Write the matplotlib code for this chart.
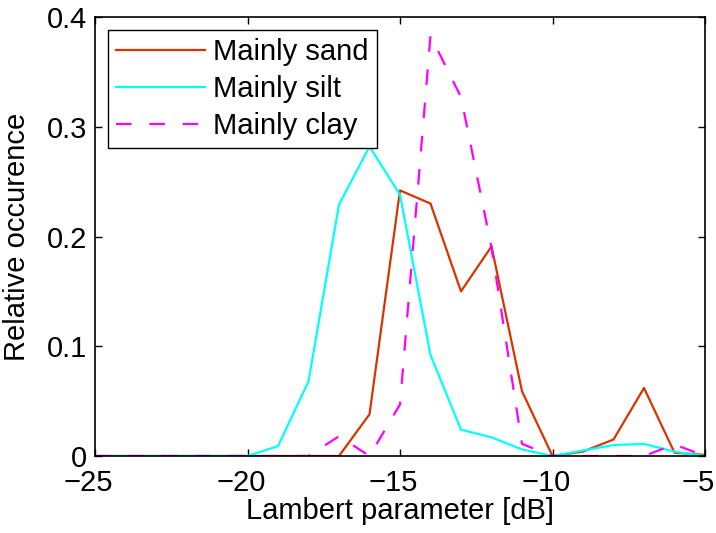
import matplotlib
matplotlib.use("Agg")
import matplotlib.pyplot as plt
import matplotlib.transforms as mtransforms
from matplotlib.legend_handler import HandlerLine2D
from matplotlib.lines import Line2D

plt.rcParams['font.family'] = ['Liberation Sans', 'DejaVu Sans']

# Lambert parameter bins [dB], -25 ... -5
lambert_db = list(range(-25, -4))

# Relative occurrence per bin for each sediment class
sand = [0, 0, 0, 0, 0, 0, 0, 0, 0, 0.038, 0.242, 0.230, 0.150, 0.191,
        0.059, 0.0, 0.004, 0.015, 0.062, 0.003, 0.001]
silt = [0, 0, 0, 0, 0, 0.0, 0.009, 0.068, 0.229, 0.282, 0.238, 0.092,
        0.024, 0.017, 0.006, 0.0, 0.005, 0.010, 0.011, 0.004, 0.0]
clay = [0, 0, 0, 0, 0, 0, 0, 0.0, 0.018, 0.0, 0.047, 0.383, 0.327,
        0.190, 0.011, 0.0, 0.0, 0.0, 0.0, 0.0105, 0.0]

labels = ["Mainly sand", "Mainly silt", "Mainly clay"]
x_ticks = [-25, -20, -15, -10, -5]
y_ticks = [0, 0.1, 0.2, 0.3, 0.4]
y_ticklabels = ["0", "0.1", "0.2", "0.3", "0.4"]

FS = 21
W, H = 716, 533

fig = plt.figure(figsize=(W / 100, H / 100), dpi=100)
ax = fig.add_axes([95 / W, 1 - 456 / H, 610 / W, 439 / H])

ax.plot(lambert_db, sand, color='#d93300', lw=1.6, label=labels[0])
ax.plot(lambert_db, silt, color='#00ffff', lw=1.6, label=labels[1])
ax.plot(lambert_db, clay, color='#ff00ff', lw=1.6, ls=(0, (7, 8)),
        label=labels[2])

ax.set_xlim(-25, -5)
ax.set_ylim(0, 0.4)
ax.set_xticks(x_ticks)
ax.set_yticks(y_ticks)
ax.set_yticklabels(y_ticklabels)
ax.tick_params(direction='in', top=True, right=True, labelsize=FS,
               length=5, width=1)
ax.tick_params(axis='x', pad=9.5)
ax.tick_params(axis='y', pad=5.5)
for s in ax.spines.values():
    s.set_linewidth(1.2)

# nudge x tick labels slightly left
shift = mtransforms.ScaledTranslation(-6.5 / 100, 0, fig.dpi_scale_trans)
for lab in ax.get_xticklabels():
    lab.set_transform(lab.get_transform() + shift)

ax.set_xlabel("Lambert parameter [dB]", fontsize=FS, va='center')
ax.xaxis.set_label_coords(0.5, (456 - 511) / 439)
ax.set_ylabel("Relative occurence", fontsize=FS, va='center')
ax.yaxis.set_label_coords((17 - 95) / 610, 0.5)


class InsetLineHandler(HandlerLine2D):
    """Legend line that starts a little right of the handle box edge."""
    def create_artists(self, legend, orig_handle, xdescent, ydescent,
                       width, height, fontsize, trans):
        arts = super().create_artists(legend, orig_handle, xdescent, ydescent,
                                      width, height, fontsize, trans)
        for a in arts:
            if isinstance(a, Line2D) and len(a.get_xdata()) == 2:
                x0, x1 = a.get_xdata()
                a.set_xdata([x0 + 9 * 72 / 100, x1])
        return arts


handle_len = (89 * 72 / 100) / FS
leg = ax.legend(loc='upper left', bbox_to_anchor=(13 / 610, 1 - 13 / 439),
                borderaxespad=0, fontsize=FS, handlelength=handle_len,
                handletextpad=(8 * 72 / 100) / FS, labelspacing=0.3,
                borderpad=0.29, fancybox=False, framealpha=1,
                edgecolor='black',
                handler_map={Line2D: InsetLineHandler()})
leg.get_frame().set_linewidth(1.0)

fig.savefig("out.png", dpi=100)
